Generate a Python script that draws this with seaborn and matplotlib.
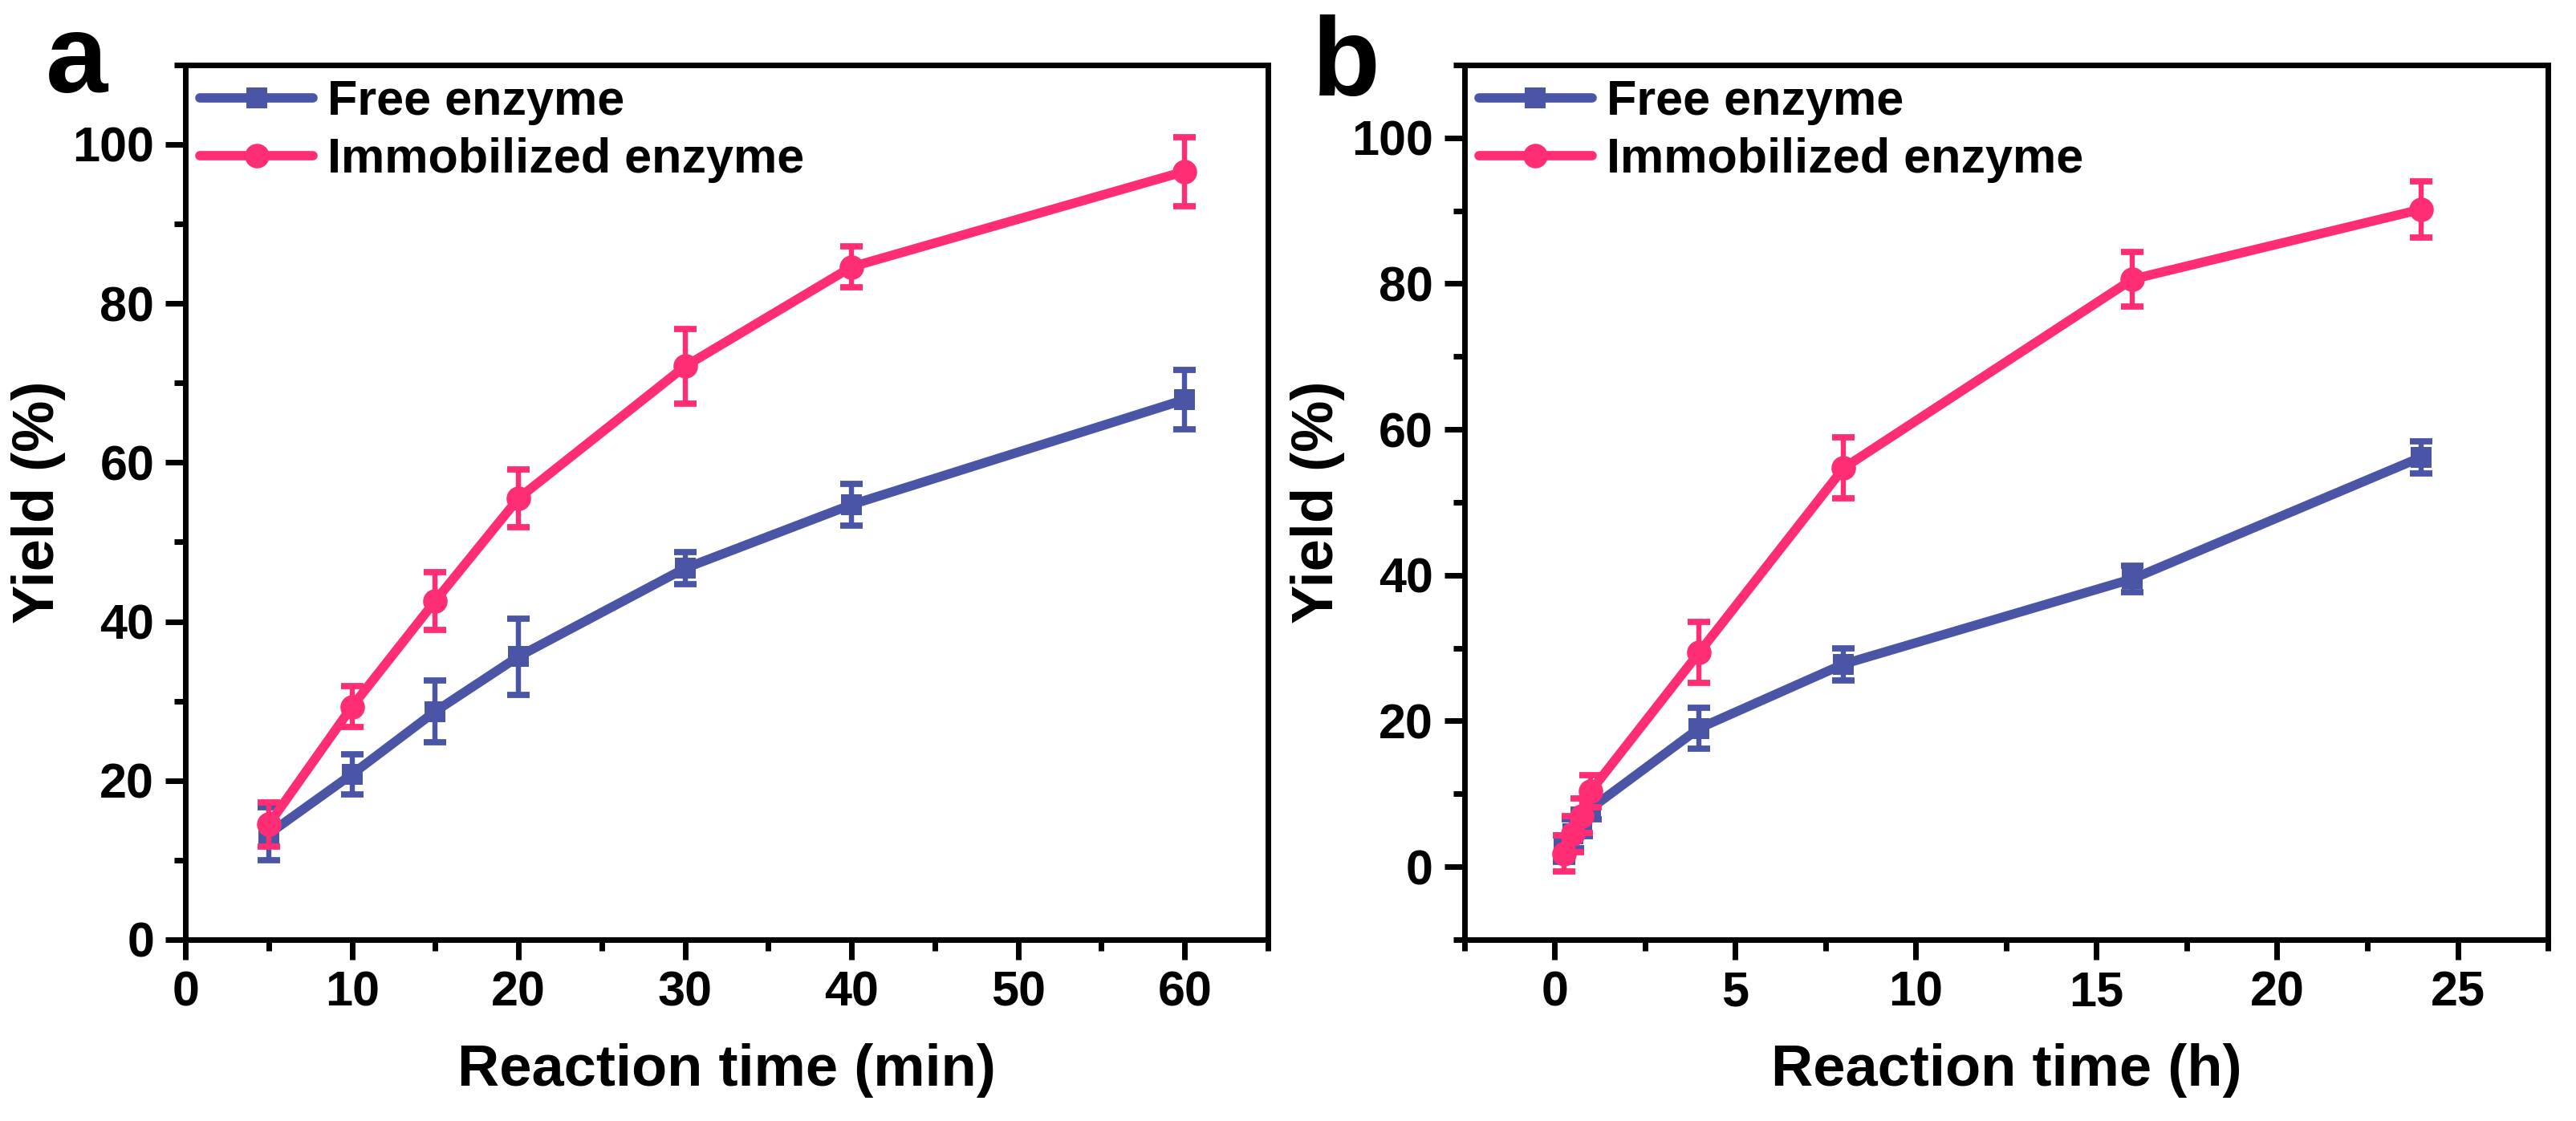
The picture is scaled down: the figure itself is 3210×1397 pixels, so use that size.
import matplotlib
matplotlib.use('Agg')
import matplotlib.pyplot as plt
from matplotlib.ticker import MultipleLocator
import seaborn as sns

BLUE = '#4A55A6'
PINK = '#FF2E74'

# Panel a - reaction time in minutes
time_min = [5, 10, 15, 20, 30, 40, 60]
free_a = [13.3, 20.8, 28.7, 35.6, 46.7, 54.7, 67.9]
free_a_err = [3.3, 2.5, 3.9, 4.8, 2.0, 2.65, 3.7]
imm_a = [14.5, 29.3, 42.6, 55.5, 72.1, 84.6, 96.6]
imm_a_err = [2.8, 2.6, 3.65, 3.65, 4.7, 2.6, 4.35]

# Panel b - reaction time in hours
time_h = [0.25, 0.5, 0.75, 1, 4, 8, 16, 24]
free_b = [2.5, 4.5, 6.0, 8.0, 19.0, 27.8, 39.5, 56.2]
free_b_err = [1.8, 2.0, 1.8, 1.5, 2.85, 2.2, 1.8, 2.2]
imm_b = [1.8, 4.5, 7.0, 10.4, 29.4, 54.7, 80.6, 90.2]
imm_b_err = [2.5, 2.5, 2.4, 2.2, 4.2, 4.2, 3.7, 3.85]

sns.set_theme(style='ticks')
plt.rcParams['font.family'] = ['Liberation Sans', 'DejaVu Sans']
plt.rcParams['font.weight'] = 'bold'
plt.rcParams['axes.labelweight'] = 'bold'
plt.rcParams['text.color'] = 'black'
plt.rcParams['axes.labelcolor'] = 'black'
plt.rcParams['xtick.color'] = 'black'
plt.rcParams['ytick.color'] = 'black'


def draw_panel(ax, t, free, free_err, imm, imm_err, xlabel, xlim, ylim,
               xmaj, xmin):
    for y, err, col, mk, ms, lab in [
            (free, free_err, BLUE, 's', 9.5, 'Free enzyme'),
            (imm, imm_err, PINK, 'o', 11, 'Immobilized enzyme')]:
        sns.lineplot(x=t, y=y, ax=ax, color=col, marker=mk, markersize=ms,
                     markeredgewidth=0, linewidth=4.2, label=lab,
                     errorbar=None)
        ax.errorbar(t, y, yerr=err, fmt='none', ecolor=col, elinewidth=2.3,
                    capsize=5, capthick=2.8)
    ax.set_xlim(*xlim)
    ax.set_ylim(*ylim)
    ax.xaxis.set_major_locator(MultipleLocator(xmaj))
    ax.xaxis.set_minor_locator(MultipleLocator(xmin))
    ax.yaxis.set_minor_locator(MultipleLocator(10))
    ax.set_yticks(range(0, 101, 20))
    ax.set_xlabel(xlabel, fontsize=26, labelpad=12)
    ax.set_ylabel('Yield (%)', fontsize=26, labelpad=3)
    for s in ax.spines.values():
        s.set_linewidth(2.5)
        s.set_color('black')
    ax.tick_params(which='major', direction='out', length=9, width=2.5,
                   labelsize=22, pad=5, colors='black')
    ax.tick_params(which='minor', direction='out', length=5, width=2.5,
                   colors='black')
    for lbl in ax.get_xticklabels() + ax.get_yticklabels():
        lbl.set_fontweight('bold')
    ax.legend(loc='upper left', bbox_to_anchor=(0, 1), frameon=False,
              fontsize=22, handlelength=2.3, handletextpad=0.3,
              labelspacing=0.25, borderaxespad=0.0, borderpad=0.3)


fig = plt.figure(figsize=(16.05, 6.985), dpi=200)
ax_a = fig.add_axes([0.0720, 0.1618, 0.4202, 0.7803])
ax_b = fig.add_axes([0.5685, 0.1618, 0.4206, 0.7803])

draw_panel(ax_a, time_min, free_a, free_a_err, imm_a, imm_a_err,
           'Reaction time (min)', (0, 65), (0, 110), 10, 5)
draw_panel(ax_b, time_h, free_b, free_b_err, imm_b, imm_b_err,
           'Reaction time (h)', (-2.5, 27.5), (-10, 110), 5, 2.5)

fig.text(57 / 3210, 1 - 115 / 1397, 'a', fontsize=50, fontweight='bold',
         ha='left', va='baseline')
fig.text(1635 / 3210, 1 - 119 / 1397, 'b', fontsize=50, fontweight='bold',
         ha='left', va='baseline')

fig.savefig('out.png', dpi=200)
